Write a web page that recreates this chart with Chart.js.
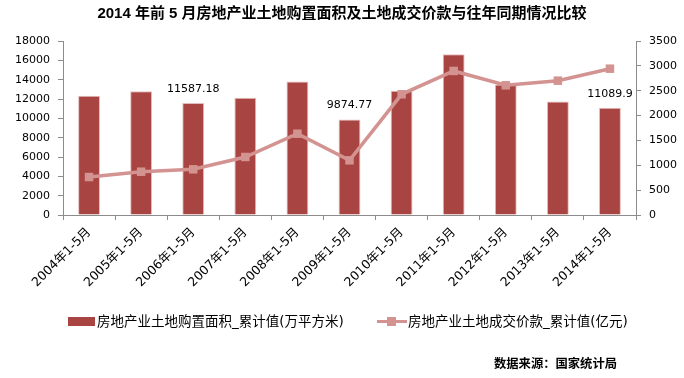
<!DOCTYPE html>
<html>
<head>
<meta charset="utf-8">
<script src="https://cdn.jsdelivr.net/npm/chart.js@4.4.1/dist/chart.umd.min.js"></script>
<style>
  html, body { margin: 0; padding: 0; background: #fff; }
  #wrap { position: relative; width: 684px; height: 378px; overflow: hidden; }
  canvas { position: absolute; left: 0; top: 0; }
  .lg { position: absolute; font-family: "DejaVu Sans", "Noto Sans CJK SC", sans-serif; font-size: 13.5px; color: #000; white-space: nowrap; line-height: 16px; }
  .sw-bar { position: absolute; left: 68px; top: 317px; width: 27px; height: 9px; background: #A84442; }
  .sw-line { position: absolute; left: 377px; top: 320px; width: 30px; height: 3px; background: #D39391; }
  .sw-pt { position: absolute; left: 387px; top: 317px; width: 9px; height: 9px; background: #D39391; }
  #src { position: absolute; left: 494px; top: 354px; font-family: "Noto Sans CJK SC", sans-serif; font-weight: bold; font-size: 12.3px; color: #000; white-space: nowrap; }
</style>
</head>
<body>
<div id="wrap">
  <canvas id="c" width="684" height="378"></canvas>
  <div class="sw-bar"></div>
  <div class="lg" id="lg1" style="left:97px; top:313px;"></div>
  <div class="sw-line"></div>
  <div class="sw-pt"></div>
  <div class="lg" id="lg2" style="left:408px; top:313px;"></div>
  <div id="src">数据来源：国家统计局</div>
</div>
<script>
const titleText = "2014 年前 5 月房地产业土地购置面积及土地成交价款与往年同期情况比较";
const categories = ["2004年1-5月","2005年1-5月","2006年1-5月","2007年1-5月","2008年1-5月","2009年1-5月","2010年1-5月","2011年1-5月","2012年1-5月","2013年1-5月","2014年1-5月"];
const areaName = "房地产业土地购置面积_累计值(万平方米)";
const priceName = "房地产业土地成交价款_累计值(亿元)";
const areaValues = [12340, 12790, 11587.18, 12140, 13800, 9874.77, 12860, 16630, 13490, 11750, 11089.9];
const priceValues = [764, 871, 919, 1167, 1635, 1100, 2428, 2897, 2609, 2702, 2943];
const areaLabels = ["", "", "11587.18", "", "", "9874.77", "", "", "", "", "11089.9"];
const leftTicks = [0, 2000, 4000, 6000, 8000, 10000, 12000, 14000, 16000, 18000];
const rightTicks = [0, 500, 1000, 1500, 2000, 2500, 3000, 3500];

document.getElementById('lg1').textContent = areaName;
document.getElementById('lg2').textContent = priceName;

const FONT = '"DejaVu Sans", "Noto Sans CJK SC", sans-serif';
const AXIS = '#8c8c8c';

const barLabelPlugin = {
  id: 'barLabels',
  afterDatasetsDraw(chart) {
    const meta = chart.getDatasetMeta(0);
    const ctx = chart.ctx;
    ctx.save();
    ctx.font = '11px ' + FONT;
    ctx.fillStyle = '#000';
    ctx.textAlign = 'center';
    ctx.textBaseline = 'middle';
    meta.data.forEach((el, i) => {
      if (areaLabels[i]) ctx.fillText(areaLabels[i], el.x, el.y - 14);
    });
    ctx.restore();
  }
};

new Chart(document.getElementById('c'), {
  data: {
    labels: categories,
    datasets: [
      {
        type: 'bar', label: areaName, data: areaValues, yAxisID: 'y',
        backgroundColor: '#A84442', borderColor: '#E6BDBC', borderWidth: {top:1, left:1, right:1, bottom:0},
        categoryPercentage: 1.0, barPercentage: 0.42, order: 2
      },
      {
        type: 'line', label: priceName, data: priceValues, yAxisID: 'y1',
        borderColor: '#D39391', backgroundColor: '#D39391', borderWidth: 3.5,
        pointStyle: 'rect', pointRadius: 6, pointHoverRadius: 6,
        pointBackgroundColor: '#D39391', pointBorderColor: '#D39391', pointBorderWidth: 0,
        tension: 0, order: 1
      }
    ]
  },
  options: {
    responsive: false, animation: false, devicePixelRatio: 1,
    layout: { padding: { left: 0, right: 0, top: 0, bottom: 0 } },
    plugins: {
      legend: { display: false },
      tooltip: { enabled: false },
      title: {
        display: true, text: titleText, color: '#000',
        font: { family: '"Liberation Sans", "Noto Sans CJK SC", sans-serif', size: 15, weight: 'bold', lineHeight: 1.2 },
        padding: { top: 5, bottom: 18 }
      }
    },
    scales: {
      x: {
        type: 'category', offset: true,
        grid: { display: true, drawOnChartArea: false, offset: true, color: AXIS, tickLength: 5 },
        border: { display: true, color: AXIS, width: 1 },
        ticks: { color: '#000', font: { family: FONT, size: 12.5 }, maxRotation: 45, minRotation: 45, autoSkip: false, padding: 5 },
        afterFit(s) { s.height = 163; }
      },
      y: {
        type: 'linear', position: 'left', min: 0, max: 18000,
        afterBuildTicks(s) { s.ticks = leftTicks.map(v => ({ value: v })); },
        grid: { display: true, drawOnChartArea: false, color: AXIS, tickLength: 5 },
        border: { display: true, color: AXIS, width: 1 },
        ticks: { color: '#000', font: { family: FONT, size: 11 }, padding: 8, callback: v => String(v) },
        afterFit(s) { s.width = 63; }
      },
      y1: {
        type: 'linear', position: 'right', min: 0, max: 3500,
        afterBuildTicks(s) { s.ticks = rightTicks.map(v => ({ value: v })); },
        grid: { display: true, drawOnChartArea: false, color: AXIS, tickLength: 5 },
        border: { display: true, color: AXIS, width: 1 },
        ticks: { color: '#000', font: { family: FONT, size: 11 }, padding: 8, callback: v => String(v) },
        afterFit(s) { s.width = 48; }
      }
    }
  },
  plugins: [barLabelPlugin]
});
</script>
</body>
</html>
